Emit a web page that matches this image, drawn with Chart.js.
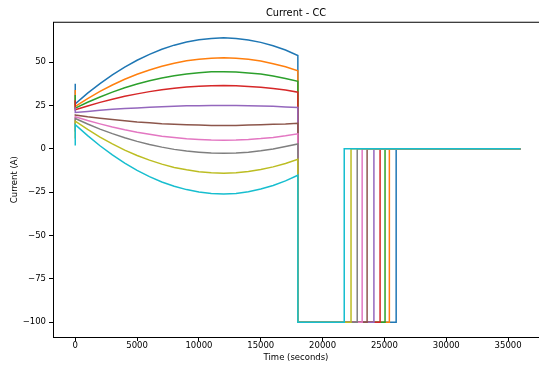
<!DOCTYPE html>
<html lang="en">
<head>
    <meta charset="UTF-8">
    <title>Current - CC</title>
    <script src="https://cdn.jsdelivr.net/npm/chart.js"></script>
    <style>
        html, body { margin: 0; padding: 0; background: #fff; overflow: hidden; }
        #wrap { width: 539px; height: 365px; }
    </style>
</head>
<body>
    <div id="wrap"><canvas id="currentChart" width="539" height="365"></canvas></div>
    <script>
        // sample times (s) of the first phase
        const curveTimes = [0, 1000, 2000, 3000, 4000, 5000, 6000, 7000, 8000, 9000,
            10000, 11000, 12000, 13000, 14000, 15000, 16000, 17000, 18000];

        // current (A) of each run over the first phase
        const run1 = [26, 32.1, 37.6, 42.6, 47.1, 51.1, 54.5, 57.4, 59.8, 61.6, 62.9, 63.7, 64, 63.7, 62.8, 61.4, 59.5, 57.0, 53.8];
        const run2 = [24.5, 29, 33.1, 36.8, 40.1, 43, 45.5, 47.6, 49.4, 50.8, 51.7, 52.3, 52.5, 52.3, 51.6, 50.6, 49.1, 47.3, 45.0];
        const run3 = [23.5, 26.9, 29.9, 32.7, 35.2, 37.4, 39.3, 40.9, 42.2, 43.2, 43.9, 44.4, 44.5, 44.3, 43.8, 43.1, 42.0, 40.6, 38.9];
        const run4 = [22.5, 24.7, 26.8, 28.6, 30.3, 31.7, 33, 34.1, 34.9, 35.6, 36.1, 36.4, 36.5, 36.4, 36.0, 35.5, 34.8, 33.9, 32.7];
        const run5 = [21, 21.6, 22.2, 22.8, 23.2, 23.6, 24, 24.3, 24.6, 24.8, 24.9, 25, 25, 25, 24.9, 24.7, 24.5, 24.2, 23.9];
        const run6 = [19.5, 18.5, 17.7, 16.9, 16.2, 15.5, 15, 14.5, 14.2, 13.9, 13.7, 13.5, 13.5, 13.5, 13.7, 13.9, 14.2, 14.4, 14.8];
        const run7 = [18.5, 16.3, 14.4, 12.6, 11, 9.6, 8.4, 7.3, 6.5, 5.8, 5.4, 5.1, 5, 5.1, 5.4, 5.9, 6.6, 7.5, 8.7];
        const run8 = [17.5, 14.3, 11.4, 8.8, 6.4, 4.3, 2.5, 1, -0.3, -1.3, -1.9, -2.4, -2.5, -2.4, -1.9, -1.1, -0.1, 1.3, 2.8];
        const run9 = [16, 11.2, 6.8, 2.9, -0.7, -3.8, -6.5, -8.8, -10.7, -12.1, -13.2, -13.8, -14, -13.8, -13.1, -11.9, -10.4, -8.4, -6.0];
        const run10 = [14, 7.6, 1.8, -3.5, -8.2, -12.4, -16, -19.1, -21.6, -23.5, -24.9, -25.7, -26, -25.7, -24.8, -23.2, -21.1, -18.5, -15.2];
        const runs = [run1, run2, run3, run4, run5, run6, run7, run8, run9, run10];

        // value logged at t = 0 before each run settles
        const spikeValues = [37.5, 34, 31, 28, 24, 20, 14, 10, 6, 2];
        // time (s) each run leaves -100 A and goes back to 0
        const restartTimes = [25950, 25400, 25050, 24650, 24150, 23600, 23200, 22800, 22300, 21750];
        const chargeEnd = 18000;
        const endTime = 36000;
        const lowCurrent = -100;
        const restCurrent = 0;

        const xTicks = [0, 5000, 10000, 15000, 20000, 25000, 30000, 35000];
        const yTicks = [-100, -75, -50, -25, 0, 25, 50];

        const colors = ['#1f77b4', '#ff7f0e', '#2ca02c', '#d62728', '#9467bd',
            '#8c564b', '#e377c2', '#7f7f7f', '#bcbd22', '#17becf'];

        const datasets = runs.map((run, i) => {
            const pts = [{ x: 0, y: spikeValues[i] }];
            curveTimes.forEach((t, k) => pts.push({ x: t, y: run[k] }));
            pts.push({ x: chargeEnd, y: lowCurrent });
            pts.push({ x: restartTimes[i], y: lowCurrent });
            pts.push({ x: restartTimes[i], y: restCurrent });
            pts.push({ x: endTime, y: restCurrent });
            return {
                label: 'run ' + (i + 1),
                data: pts,
                borderColor: colors[i],
                backgroundColor: colors[i],
                borderWidth: 1.5,
                pointRadius: 0,
                tension: 0,
                fill: false,
                order: runs.length - 1 - i
            };
        });

        // matplotlib style top spine
        const topSpine = {
            id: 'topSpine',
            afterDraw(chart) {
                const { ctx, chartArea } = chart;
                ctx.save();
                ctx.strokeStyle = '#000';
                ctx.lineWidth = 1;
                ctx.beginPath();
                ctx.moveTo(chartArea.left, chartArea.top);
                ctx.lineTo(chartArea.right, chartArea.top);
                ctx.stroke();
                ctx.restore();
            }
        };

        const tickFont = { family: 'DejaVu Sans', size: 8.5 };

        new Chart(document.getElementById('currentChart'), {
            type: 'line',
            data: { datasets: datasets },
            plugins: [topSpine],
            options: {
                responsive: false,
                animation: false,
                layout: { padding: { left: 0, right: 0, top: 0, bottom: 0 } },
                plugins: {
                    legend: { display: false },
                    tooltip: { enabled: false },
                    title: {
                        display: true,
                        text: 'Current - CC',
                        fullSize: false,
                        color: '#000',
                        font: { family: 'DejaVu Sans', size: 9.8, weight: 'normal' },
                        padding: { top: 8, bottom: 2.5 }
                    }
                },
                scales: {
                    x: {
                        type: 'linear',
                        min: -1800,
                        max: 37500,
                        afterBuildTicks: axis => { axis.ticks = xTicks.map(v => ({ value: v })); },
                        afterFit: axis => { axis.height = 28; },
                        grid: { drawOnChartArea: false, drawTicks: true, tickLength: 4, color: '#000' },
                        border: { display: true, color: '#000', width: 1 },
                        ticks: { color: '#000', font: tickFont, padding: 0, maxRotation: 0, callback: v => '' + v },
                        title: {
                            display: true,
                            text: 'Time (seconds)',
                            color: '#000',
                            font: tickFont,
                            padding: { top: 0, bottom: 2 }
                        }
                    },
                    y: {
                        min: -108.5,
                        max: 73,
                        afterBuildTicks: axis => { axis.ticks = yTicks.map(v => ({ value: v })); },
                        afterFit: axis => { axis.width = 53; },
                        grid: { drawOnChartArea: false, drawTicks: true, tickLength: 4, color: '#000' },
                        border: { display: true, color: '#000', width: 1 },
                        ticks: {
                            color: '#000',
                            font: tickFont,
                            padding: 3,
                            callback: v => (v < 0 ? '\u2212' + Math.abs(v) : '' + v)
                        },
                        title: {
                            display: true,
                            text: 'Current (A)',
                            color: '#000',
                            font: tickFont,
                            padding: { top: 10, bottom: 0 }
                        }
                    }
                }
            }
        });
    </script>
</body>
</html>
